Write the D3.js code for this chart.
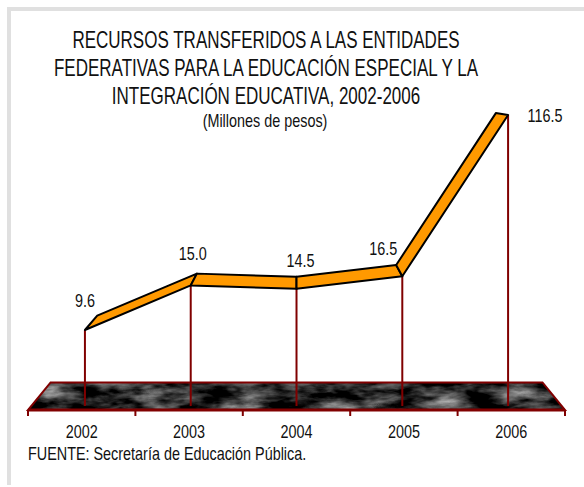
<!DOCTYPE html>
<html><head><meta charset="utf-8">
<script src="https://cdn.jsdelivr.net/npm/d3@7"></script>
<style>
html,body{margin:0;padding:0;background:#fff;}
svg{display:block;}
text{font-family:"Liberation Sans Narrow","Arial Narrow","Liberation Sans",Arial,sans-serif;fill:#111;}
</style></head>
<body>
<svg id="chart" width="584" height="487"></svg>
<script>
const years = ["2002","2003","2004","2005","2006"];
const values = [9.6, 15.0, 14.5, 16.5, 116.5];
const valueLabels = ["9.6","15.0","14.5","16.5","116.5"];
const titleLines = ["RECURSOS TRANSFERIDOS A LAS ENTIDADES","FEDERATIVAS PARA LA EDUCACIÓN ESPECIAL Y LA","INTEGRACIÓN EDUCATIVA, 2002-2006"];
const subtitle = "(Millones de pesos)";
const source = "FUENTE: Secretaría de Educación Pública.";

const svg = d3.select("#chart");
const W = 584, H = 487;

// narrow text helper (no condensed font installed -> horizontal scale)
function ntext(parent, tx, ty, size, sx, anchor, str) {
  return parent.append("text")
    .attr("transform", `translate(${tx},${ty}) scale(${sx},1)`)
    .attr("x", 0).attr("y", 0)
    .attr("text-anchor", anchor).attr("font-size", size).text(str);
}

// frame (light gray L border)
svg.append("rect").attr("x",7).attr("y",7).attr("width",W-7).attr("height",4).attr("fill","#e0e0e0");
svg.append("rect").attr("x",7).attr("y",7).attr("width",4).attr("height",478).attr("fill","#e0e0e0");

// scales
const x = d3.scaleBand().domain(years).range([28,565]).padding(0);
const floorFront = 410, floorBottom = 406;
const y = d3.scalePow().exponent(-0.15).domain([d3.min(values), d3.max(values)]).range([330,115]);
const VP = [297, 82];
const kRib = 0.058, kFloor = 0.084;
const back = (p,k) => [p[0] + k*(VP[0]-p[0]), p[1] + k*(VP[1]-p[1])];
const px = d => { const c = x(d) + x.bandwidth()/2; return c + 0.015*(VP[0]-c); };

// texture filter
const defs = svg.append("defs");
const f = defs.append("filter").attr("id","marble").attr("x",0).attr("y",0).attr("width","100%").attr("height","100%")
  .attr("color-interpolation-filters","sRGB");
f.append("feTurbulence").attr("type","fractalNoise").attr("baseFrequency","0.03 0.085").attr("numOctaves",4).attr("seed",11).attr("result","n");
f.append("feColorMatrix").attr("in","n").attr("type","matrix")
 .attr("values","0.5 0.5 0 0 0  0.5 0.5 0 0 0  0.5 0.5 0 0 0  0 0 0 0 1").attr("result","g");
f.append("feComponentTransfer").attr("in","g")
 .call(s=>{["feFuncR","feFuncG","feFuncB"].forEach(fn=>s.append(fn).attr("type","linear").attr("slope",1.7).attr("intercept",-0.66));});

// floor
const fl = [[28,floorFront],[565,floorFront]];
const floorPts = [fl[0], fl[1], back(fl[1],kFloor), back(fl[0],kFloor)];
defs.append("clipPath").attr("id","floorClip").append("polygon").attr("points",floorPts.map(p=>p.join(",")).join(" "));
svg.append("rect").attr("x",20).attr("y",370).attr("width",560).attr("height",50)
  .attr("fill","#2a2a2a").attr("clip-path","url(#floorClip)");
svg.append("g").attr("clip-path","url(#floorClip)")
  .append("rect").attr("x",20).attr("y",370).attr("width",560).attr("height",50)
  .attr("filter","url(#marble)");
svg.append("polygon").attr("points",floorPts.map(p=>p.join(",")).join(" "))
  .attr("fill","none").attr("stroke","#800000").attr("stroke-width",2).attr("stroke-linejoin","miter");
svg.append("line").attr("x1",28).attr("x2",565).attr("y1",floorFront).attr("y2",floorFront)
  .attr("stroke","#800000").attr("stroke-width",3);

// ticks at band boundaries
const bounds = years.map(d=>x(d)).concat([x(years[years.length-1])+x.bandwidth()]);
svg.selectAll("line.tick").data(bounds).join("line").attr("class","tick")
  .attr("x1",d=>d).attr("x2",d=>d).attr("y1",floorFront).attr("y2",416)
  .attr("stroke","#800000").attr("stroke-width",2);

// drop lines
const pts = years.map((d,i)=>[px(d), y(values[i])]);
svg.selectAll("line.drop").data(pts).join("line").attr("class","drop")
  .attr("x1",d=>d[0]).attr("x2",d=>d[0]).attr("y1",d=>d[1]).attr("y2",floorBottom)
  .attr("stroke","#800000").attr("stroke-width",2);

// ribbon
const segs = d3.pairs(pts);
svg.selectAll("polygon.rib").data(segs).join("polygon").attr("class","rib")
  .attr("points",([a,b])=>[a,b,back(b,kRib),back(a,kRib)].map(p=>p.join(",")).join(" "))
  .attr("fill","#ff9900").attr("stroke","#000").attr("stroke-width",2).attr("stroke-linejoin","round");

// value labels
const lblDx = [0, 2, 4, -19, 37];
const lblDy = [-23, -25, -22, -21, 7];
pts.forEach((d,i)=> ntext(svg, d[0]+lblDx[i], d[1]+lblDy[i], 18, 0.8, "middle", valueLabels[i]));

// axis labels
years.forEach(d=> ntext(svg, x(d)+x.bandwidth()/2, 438, 18, 0.8, "middle", d));

// title
titleLines.forEach((t,i)=> ntext(svg, 266, 48+i*28, 23, 0.74, "middle", t));
ntext(svg, 265, 127, 18, 0.8, "middle", subtitle);

// source
ntext(svg, 28, 460, 18, 0.8, "start", source);
</script>
</body></html>
